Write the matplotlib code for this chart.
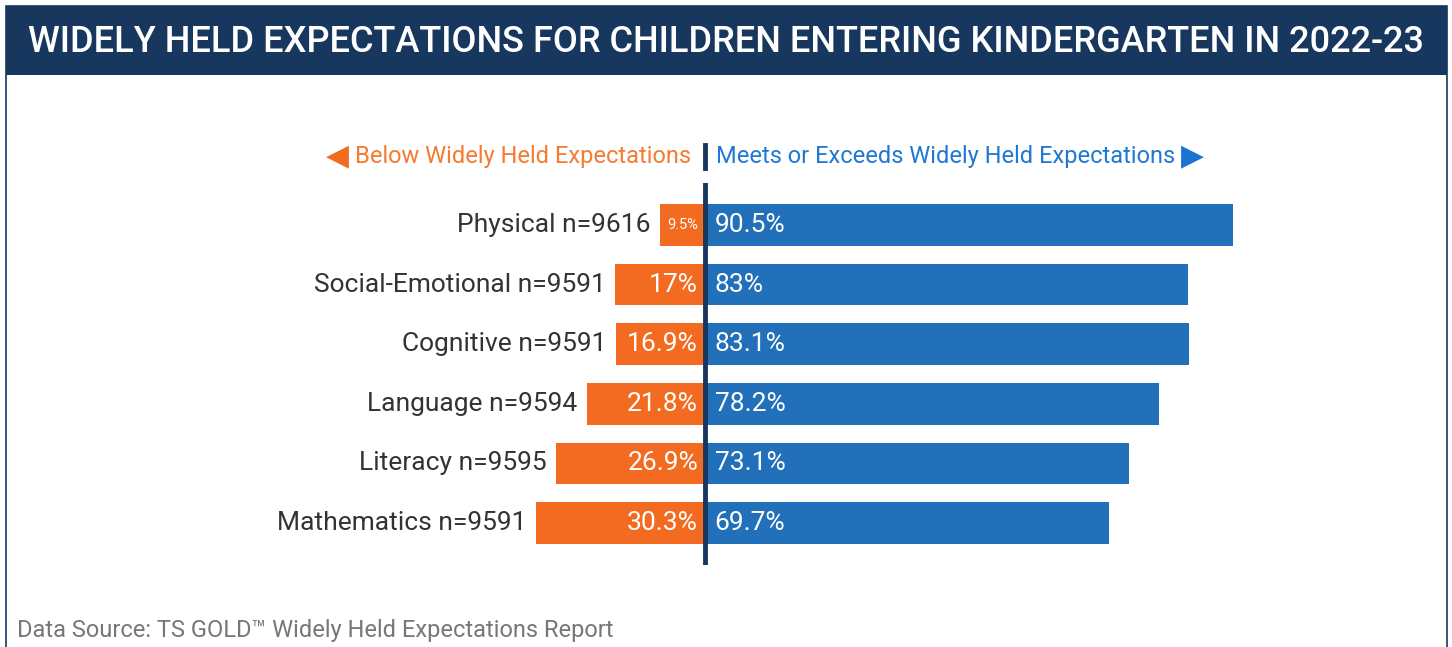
import matplotlib
matplotlib.use('Agg')
import matplotlib.pyplot as plt
from matplotlib.patches import Rectangle
from matplotlib.lines import Line2D

# data
categories = ['Physical n=9616', 'Social-Emotional n=9591', 'Cognitive n=9591',
              'Language n=9594', 'Literacy n=9595', 'Mathematics n=9591']
below = [9.5, 17, 16.9, 21.8, 26.9, 30.3]
meets = [90.5, 83, 83.1, 78.2, 73.1, 69.7]
below_labels = ['9.5%', '17%', '16.9%', '21.8%', '26.9%', '30.3%']
meets_labels = ['90.5%', '83%', '83.1%', '78.2%', '73.1%', '69.7%']

NAVY = '#17375e'
ORANGE = '#f26b21'
BLUE = '#2270b9'
ORANGE_TXT = '#f47b30'
BLUE_TXT = '#1f78d1'
TRIM = 1.95  # small gap each bar keeps from the centre line

plt.rcParams['font.family'] = ['Roboto', 'DejaVu Sans']

W, H = 1452, 647
fig = plt.figure(figsize=(W / 100, H / 100), dpi=100)

# frame and title banner
fig.patches.append(Rectangle((6 / W, -0.01), 1441 / W, 1.0, transform=fig.transFigure,
                             facecolor='none', edgecolor=NAVY, linewidth=1.2))
fig.patches.append(Rectangle((6 / W, 1 - 75 / H), 1441 / W, 69 / H, transform=fig.transFigure,
                             facecolor=NAVY, edgecolor='none'))
fig.text(726 / W, 1 - 42 / H, 'WIDELY HELD EXPECTATIONS FOR CHILDREN ENTERING KINDERGARTEN IN 2022-23',
         color='white', fontsize=26, fontweight='medium', ha='center', va='center')

# legend row
fig.text(691 / W, 1 - 156 / H, 'Below Widely Held Expectations', color=ORANGE_TXT,
         fontsize=17, ha='right', va='center')
fig.text(326 / W, 1 - 156 / H, '\u25c0', color=ORANGE, fontsize=21.5, ha='left', va='center',
         family='DejaVu Sans')
fig.text(716 / W, 1 - 156 / H, 'Meets or Exceeds Widely Held Expectations', color=BLUE_TXT,
         fontsize=17, ha='left', va='center')
fig.text(1181 / W, 1 - 156 / H, '\u25b6', color='#1a75d2', fontsize=21.5, ha='left', va='center',
         family='DejaVu Sans')
fig.lines.append(Line2D([705 / W, 705 / W], [1 - 145 / H, 1 - 168 / H], transform=fig.transFigure,
                        color=NAVY, linewidth=3.5))

# bars
ax = fig.add_axes([6 / W, (H - 565) / H, 1441 / W, 382 / H])
scale = 5.96
ax.set_xlim((6 - 705) / scale, (1447 - 705) / scale)
ax.set_ylim(len(categories) - 1 + 0.705, -0.705)
ax.axis('off')

ypos = list(range(len(categories)))
ax.barh(ypos, [-(b - TRIM) for b in below], height=0.7, color=ORANGE)
ax.barh(ypos, [m - TRIM for m in meets], height=0.7, color=BLUE)
ax.axvline(0, color=NAVY, linewidth=3.5)

for y, cat, b, m, bl, ml in zip(ypos, categories, below, meets, below_labels, meets_labels):
    ax.annotate(cat, (-(b - TRIM), y), xytext=(-7, 0), textcoords='offset points',
                ha='right', va='center', fontsize=19, color='#333333')
    small = b < 12
    ax.annotate(bl, (0, y), xytext=(-5, 0), textcoords='offset points',
                ha='right', va='center', fontsize=10.5 if small else 19, color='white')
    ax.annotate(ml, (0, y), xytext=(7, 0), textcoords='offset points',
                ha='left', va='center', fontsize=19, color='white')

# footer
fig.text(17 / W, 1 - 631 / H, 'Data Source: TS GOLD\u2122 Widely Held Expectations Report',
         color='#777777', fontsize=17, ha='left', va='center')

fig.savefig('out.png', dpi=100, facecolor='white')
